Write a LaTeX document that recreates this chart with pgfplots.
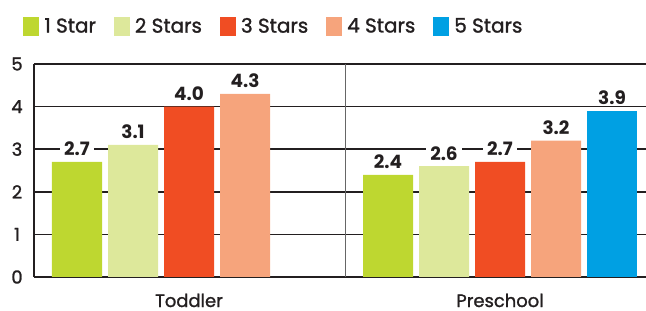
\documentclass[border=0pt]{standalone}
\usepackage{fontspec}
\setmainfont{Poppins}
\newfontfamily\medfont{Poppins}[FakeBold=1.3]
\usepackage{pgfplots}
\pgfplotsset{compat=1.18}
\definecolor{starA}{HTML}{BED730}
\definecolor{starB}{HTML}{DDE89B}
\definecolor{starC}{HTML}{F04D23}
\definecolor{starD}{HTML}{F6A47C}
\definecolor{starE}{HTML}{00A0E3}
\definecolor{ink}{HTML}{231F20}
\pgfplotsset{sq legend/.style={legend image code/.code={\fill[##1] (0bp,-9.5bp) rectangle (16bp,9.5bp);}}}
\begin{document}
\begin{tikzpicture}
\path[use as bounding box] (-34bp,-34bp) rectangle (612bp,277bp);
\begin{axis}[
  at={(0,0)}, anchor=south west,
  scale only axis, width=612bp, height=213bp,
  xmin=34, xmax=646, ymin=0, ymax=5,
  axis lines=left,
  axis line style={-, line width=1.6bp, ink},
  ymajorgrids, grid style={ink, line width=1.6bp},
  xtick={189,500}, xticklabels={Toddler,Preschool},
  ytick={0,1,2,3,4,5},
  major tick length=0pt,
  /pgf/number format/assume math mode=true,
  yticklabel style={font=\medfont\fontsize{18}{18}\selectfont, text=ink, anchor=center, xshift=-17bp},
  xticklabel style={font=\medfont\fontsize{18}{18}\selectfont, text=ink, anchor=base, yshift=-30bp, inner sep=0pt, text depth=0pt},
  ybar, bar shift=0pt, bar width=50,
  nodes near coords,
  nodes near coords style={/pgf/number format/fixed, /pgf/number format/fixed zerofill, /pgf/number format/precision=1},
  every node near coord/.append style={font=\bfseries\fontsize{18.5}{18.5}\selectfont, text=ink, fill=white, inner xsep=4bp, inner ysep=1bp, anchor=base, yshift=6bp},
  legend columns=-1,
  legend style={at={(axis description cs:0.392,1.178)}, anchor=center, draw=none, fill=none,
    font=\medfont\fontsize{20}{20}\selectfont, text=ink,
    /tikz/every odd column/.append style={column sep=3bp},
    /tikz/every even column/.append style={column sep=16bp}},
]
\addplot[fill=starA, draw=none, sq legend] coordinates {(77,2.7) (388,2.4)};
\addlegendentry{1 Star}
\addplot[fill=starB, draw=none, sq legend] coordinates {(133,3.1) (444,2.6)};
\addlegendentry{2 Stars}
\addplot[fill=starC, draw=none, sq legend] coordinates {(189,4.0) (500,2.7)};
\addlegendentry{3 Stars}
\addplot[fill=starD, draw=none, sq legend] coordinates {(245,4.3) (556,3.2)};
\addlegendentry{4 Stars}
\addplot[fill=starE, draw=none, sq legend] coordinates {(612,3.9)};
\addlegendentry{5 Stars}
\draw[gray!80!black, line width=1bp] (axis cs:345,0) -- (axis cs:345,5);
\end{axis}
\end{tikzpicture}
\end{document}
